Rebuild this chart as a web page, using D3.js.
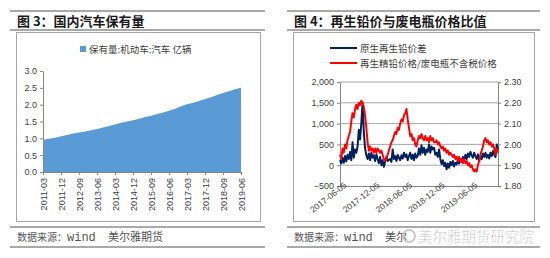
<!DOCTYPE html>
<html>
<head>
<meta charset="utf-8">
<script src="https://cdn.jsdelivr.net/npm/d3@7"></script>
<style>
  body { margin: 0; background: #fff; }
  svg text { font-family: "Liberation Sans", "Noto Sans CJK SC", sans-serif; }
</style>
</head>
<body>
<svg id="chart" width="550" height="258"></svg>
<script>
// ---- data: figure 3, car ownership (100 million vehicles), quarterly
const carQuarters = [
  "2011-03","2011-06","2011-09","2011-12","2012-03","2012-06","2012-09","2012-12",
  "2013-03","2013-06","2013-09","2013-12","2014-03","2014-06","2014-09","2014-12",
  "2015-03","2015-06","2015-09","2015-12","2016-03","2016-06","2016-09","2016-12",
  "2017-03","2017-06","2017-09","2017-12","2018-03","2018-06","2018-09","2018-12",
  "2019-03","2019-06"
];
const carValues = [
  0.96,0.99,1.02,1.06, 1.10,1.14,1.17,1.20,
  1.24,1.28,1.32,1.37, 1.41,1.46,1.50,1.54,
  1.58,1.63,1.67,1.72, 1.77,1.82,1.88,1.95,
  2.01,2.06,2.11,2.17, 2.22,2.29,2.35,2.40,
  2.46,2.50
];
const carTicks = ["2011-03","2011-12","2012-09","2013-06","2014-03","2014-12",
  "2015-09","2016-06","2017-03","2017-12","2018-09","2019-06"];
const carLegend = "保有量:机动车:汽车 亿辆";

// ---- data: figure 4, weekly readings from 2017-06-05
const leadStart = "2017-06-05";
const spreadValues = [
  120,40,180,60,220,90,250,150,320,120,
  550,180,380,300,450,850,620,1000,1500,800,
  400,240,150,280,120,300,180,240,100,260,
  150,50,200,0,120,-40,80,200,100,130,
  150,80,380,150,220,100,250,180,120,240,
  160,300,200,260,120,220,300,150,250,120,
  280,180,230,400,250,480,300,420,250,380,
  320,500,300,450,380,420,250,300,200,380,
  150,30,120,-20,60,-100,40,-60,80,0,
  100,-30,60,20,120,40,150,80,200,120,
  250,150,280,200,320,240,180,300,220,150,
  260,100,220,150,280,200,300,180,250,160,
  300,220,340,250,200,500,380
];
const ratioValues = [
  1.95,1.93,1.98,1.96,2.00,1.98,2.02,2.04,2.06,2.11,
  2.15,2.13,2.17,2.19,2.17,2.20,2.19,2.21,2.20,2.18,
  2.14,2.08,2.01,1.97,1.99,1.97,1.98,1.96,1.98,1.96,
  1.98,1.97,1.96,1.97,1.95,1.93,1.92,1.93,1.95,1.97,
  1.99,2.01,2.02,2.04,2.06,2.05,2.08,2.07,2.10,2.12,
  2.11,2.14,2.15,2.17,2.12,2.08,2.04,2.05,2.02,2.03,
  2.00,1.99,2.02,2.04,2.03,2.05,2.03,2.02,2.04,2.02,
  2.03,2.01,2.04,2.02,2.03,2.01,2.01,2.02,2.00,2.01,
  1.99,1.98,1.99,1.97,1.98,1.96,1.97,1.95,1.96,1.95,
  1.94,1.95,1.93,1.94,1.92,1.94,1.92,1.93,1.91,1.93,
  1.91,1.92,1.90,1.91,1.89,1.90,1.88,1.87,1.88,1.87,
  1.90,1.92,1.95,1.97,1.99,2.02,2.03,2.01,2.02,2.00,
  2.01,1.99,2.00,1.98,1.95,1.98,1.96
];
const leadTicks = ["2017-06-05","2017-12-05","2018-06-05","2018-12-05","2019-06-05"];
const leftTicks = [-500, 0, 500, 1000, 1500, 2000];
const rightTicks = [1.80, 1.90, 2.00, 2.10, 2.20, 2.30];
const seriesNames = ["原生再生铅价差", "再生精铅价格/废电瓶不含税价格"];

const svg = d3.select("#chart");
const axisGray = "#868686";

// panel frames (header lines, box, footer lines)
function panel(x0, x1, bx0, bx1, title, company) {
  const g = svg.append("g");
  [11, 30, 227, 247].forEach(y => {
    g.append("line").attr("x1", x0).attr("x2", x1).attr("y1", y).attr("y2", y)
      .attr("stroke", "#8c8c8c").attr("stroke-width", 1.5);
  });
  g.append("rect").attr("x", bx0 + 0.5).attr("y", 32.5)
    .attr("width", bx1 - bx0).attr("height", 189)
    .attr("fill", "none").attr("stroke", "#a6a6a6");
  g.append("text").attr("x", x0 + 7).attr("y", 26)
    .style("font-family", "'Noto Sans CJK SC'")
    .style("font-weight", "bold").style("font-size", "13px")
    .attr("fill", "#1a1a1a").text(title);
  // footer: source line
  const off = bx0 - 16;
  const ft = g.append("text").attr("y", 241).attr("fill", "#555")
    .style("font-family", "'Noto Sans CJK SC'");
  ft.append("tspan").attr("x", 17 + off).style("font-size", "10px").text("数据来源：");
  ft.append("tspan").attr("x", 67 + off)
    .style("font-family", "'Liberation Mono'").style("font-size", "12px").text("wind");
  ft.append("tspan").attr("x", 108 + off).style("font-size", "11px").text(company);
}
panel(10, 265, 16, 260, "图 3：国内汽车保有量", "美尔雅期货");
// right footer: the company name is hidden under the watermark after "美尔"
panel(287, 540, 293, 534, "图 4：再生铅价与废电瓶价格比值", "美尔");

function styleAxis(g) {
  g.select(".domain").attr("stroke", axisGray);
  g.selectAll(".tick line").attr("stroke", axisGray);
  g.selectAll(".tick text").attr("fill", "#404040")
    .style("font-size", "9px").style("font-family", "'Liberation Sans'");
}

// ---- figure 3
const parseMonth = d3.timeParse("%Y-%m");
const carData = carQuarters.map((q, i) => ({ date: parseMonth(q), value: carValues[i] }));

const x3 = d3.scaleTime()
  .domain(d3.extent(carData, d => d.date))
  .range([43, 241]);
const y3 = d3.scaleLinear().domain([0, 3]).range([172, 71]);

svg.append("path")
  .datum(carData)
  .attr("fill", "#5b9bd5")
  .attr("d", d3.area().x(d => x3(d.date)).y0(y3(0)).y1(d => y3(d.value)));

svg.append("g")
  .attr("transform", "translate(43,0)")
  .call(d3.axisLeft(y3).tickValues([0, 0.5, 1, 1.5, 2, 2.5, 3])
    .tickFormat(d3.format(".1f")).tickSize(3).tickSizeOuter(0))
  .call(styleAxis);

svg.append("g")
  .attr("transform", `translate(0,${y3(0)})`)
  .call(d3.axisBottom(x3).tickValues(carTicks.map(parseMonth))
    .tickFormat(d3.timeFormat("%Y-%m")).tickSize(3).tickSizeOuter(0))
  .call(styleAxis)
  .call(g => g.selectAll(".tick text")
    .attr("transform", "rotate(-90)")
    .attr("x", -6).attr("y", 0).attr("dy", "0.35em")
    .style("text-anchor", "end"));

// legend
svg.append("rect").attr("x", 80).attr("y", 46).attr("width", 6).attr("height", 6)
  .attr("fill", "#5b9bd5");
svg.append("text").attr("x", 89).attr("y", 53)
  .style("font-size", "9.5px").style("font-family", "'Noto Sans CJK SC'")
  .attr("fill", "#404040").text(carLegend);

// ---- figure 4
const parseDay = d3.timeParse("%Y-%m-%d");
const start = parseDay(leadStart);
const leadData = spreadValues.map((v, i) => ({
  date: d3.timeDay.offset(start, i * 7), spread: v, ratio: ratioValues[i]
}));

const x4 = d3.scaleTime()
  .domain(d3.extent(leadData, d => d.date))
  .range([340, 498]);
const yL = d3.scaleLinear().domain([-500, 2000]).range([186, 82]);
const yR = d3.scaleLinear().domain([1.8, 2.3]).range([186, 82]);

// gridlines
svg.append("g").selectAll("line")
  .data(leftTicks.slice(1))
  .join("line")
  .attr("x1", 340).attr("x2", 498)
  .attr("y1", d => yL(d)).attr("y2", d => yL(d))
  .attr("stroke", "#a6a6a6");

svg.append("g")
  .attr("transform", "translate(340,0)")
  .call(d3.axisLeft(yL).tickValues(leftTicks).tickFormat(d3.format(","))
    .tickSize(3).tickSizeOuter(0))
  .call(styleAxis);

svg.append("g")
  .attr("transform", "translate(498,0)")
  .call(d3.axisRight(yR).tickValues(rightTicks).tickFormat(d3.format(".2f"))
    .tickSize(3).tickSizeOuter(0))
  .call(styleAxis);

svg.append("path")
  .datum(leadData)
  .attr("fill", "none").attr("stroke", "#002060").attr("stroke-width", 2)
  .attr("stroke-linejoin", "round")
  .attr("d", d3.line().x(d => x4(d.date)).y(d => yL(d.spread)));

svg.append("path")
  .datum(leadData)
  .attr("fill", "none").attr("stroke", "#ff0000").attr("stroke-width", 2)
  .attr("stroke-linejoin", "round")
  .attr("d", d3.line().x(d => x4(d.date)).y(d => yR(d.ratio)));

svg.append("g")
  .attr("transform", `translate(0,${yL(-500)})`)
  .call(d3.axisBottom(x4).tickValues(leadTicks.map(parseDay))
    .tickFormat(d3.timeFormat("%Y-%m-%d")).tickSize(0).tickSizeOuter(0))
  .call(styleAxis)
  .call(g => g.selectAll(".tick text")
    .attr("transform", "translate(5,-2) rotate(-38)")
    .attr("x", 0).attr("y", 0).attr("dy", "0.35em")
    .style("font-size", "8.5px")
    .style("text-anchor", "end"));

// legend
const legColors = ["#002060", "#ff0000"];
seriesNames.forEach((name, i) => {
  const ly = 48 + i * 15;
  svg.append("line").attr("x1", 330).attr("x2", 357).attr("y1", ly).attr("y2", ly)
    .attr("stroke", legColors[i]).attr("stroke-width", 2);
  svg.append("text").attr("x", 360).attr("y", ly + 3.5)
    .style("font-size", "9.5px").style("font-family", "'Noto Sans CJK SC'")
    .attr("fill", "#404040").text(name);
});

// watermark in the footer
svg.append("circle").attr("cx", 409).attr("cy", 236).attr("r", 6)
  .attr("fill", "none").attr("stroke", "#c8c8c8").attr("stroke-width", 2);
svg.append("text").attr("x", 418).attr("y", 242)
  .style("font-family", "'Noto Sans CJK SC'").style("font-size", "14.5px")
  .attr("fill", "#b0b0b0").attr("stroke", "#fff").attr("stroke-width", 0.5)
  .text("美尔雅期货研究院");
</script>
</body>
</html>
